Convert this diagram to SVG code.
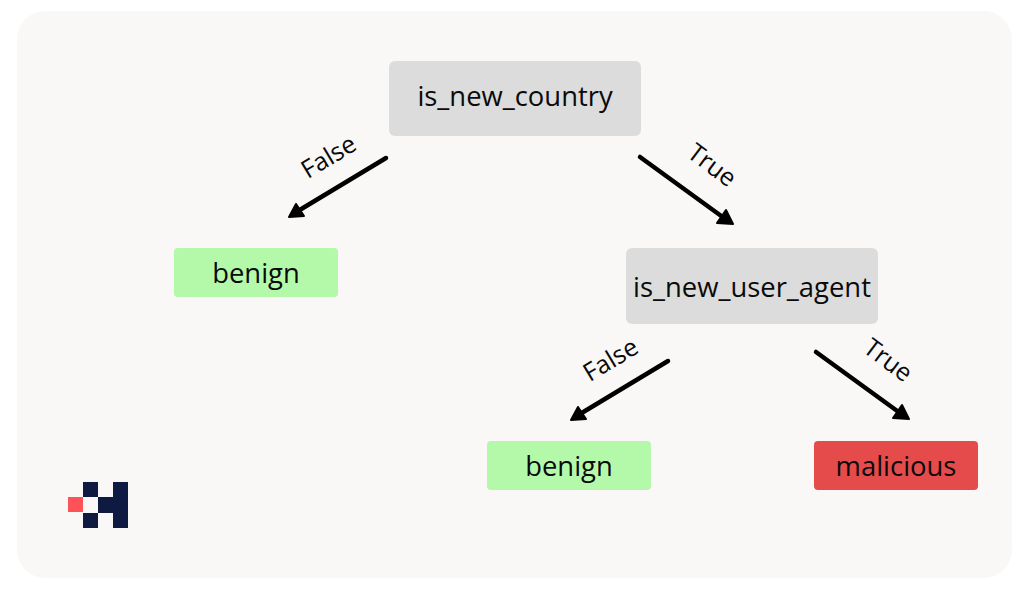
<svg xmlns="http://www.w3.org/2000/svg" width="1024" height="589" viewBox="0 0 1024 589">
<style>
text{font-family:"Open Sans","Noto Sans",sans-serif;fill:#0a0a0a;text-anchor:middle}
.n{font-size:27.4px}
.e{font-size:25px}
.c{fill:none;stroke:#000;stroke-width:4.5;stroke-linecap:round}
.h{fill:#000;stroke:#000;stroke-width:2;stroke-linejoin:round}
.q{fill:#dcdcdc}
.g{fill:#b4f9a9}
.r{fill:#e54b4b}
.l{fill:#0e1a42}
</style>
<rect width="1024" height="589" fill="#fff"/>
<rect x="17" y="11" width="995" height="567" rx="28" fill="#f9f8f6"/>
<g id="connectors">
<path class="c" d="M386 158L298 211"/><path class="h" d="M289 217L296 204L304 216Z"/>
<path class="c" d="M640 157L724 218"/><path class="h" d="M733 224L717 223L726 210Z"/>
<path class="c" d="M668 361L580 414"/><path class="h" d="M571 420L578 407L586 419Z"/>
<path class="c" d="M816 352L900 413"/><path class="h" d="M909 419L893 418L902 405Z"/>
<text class="e" transform="translate(333 164) rotate(-31)">False</text>
<text class="e" transform="translate(707 172) rotate(37)">True</text>
<text class="e" transform="translate(615 367) rotate(-31)">False</text>
<text class="e" transform="translate(883 367) rotate(37)">True</text>
</g>
<g id="n1"><rect class="q" x="389" y="61" width="252" height="75" rx="6"/><text class="n" x="515" y="106">is_new_country</text></g>
<g id="n2"><rect class="g" x="174" y="248" width="164" height="49" rx="4"/><text class="n" x="256" y="282.5">benign</text></g>
<g id="n3"><rect class="q" x="626" y="248" width="252" height="76" rx="6"/><text class="n" x="752" y="296.5">is_new_user_agent</text></g>
<g id="n4"><rect class="g" x="487" y="441" width="164" height="49" rx="4"/><text class="n" x="569" y="475.5">benign</text></g>
<g id="n5"><rect class="r" x="814" y="441" width="164" height="49" rx="4"/><text class="n" x="896" y="475.5">malicious</text></g>
<g id="logo">
<rect x="68" y="497" width="15" height="15" fill="#fd5257"/>
<rect class="l" x="83" y="482" width="15" height="15"/>
<rect class="l" x="83" y="513" width="15" height="15"/>
<rect class="l" x="98" y="497" width="15" height="16"/>
<rect class="l" x="113" y="482" width="15" height="46"/>
</g>
</svg>
